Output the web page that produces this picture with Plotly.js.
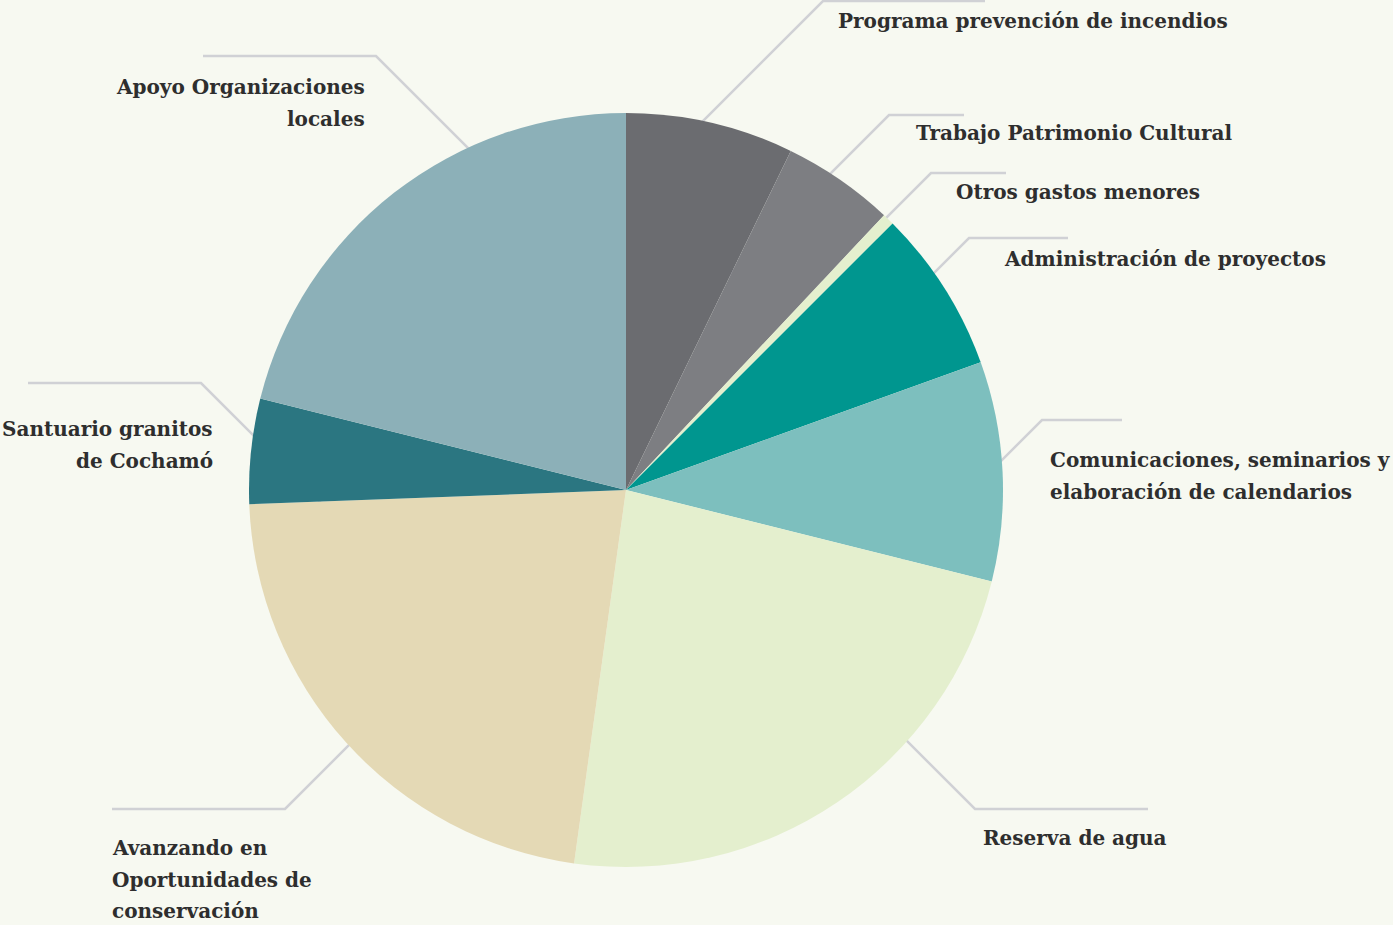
<!DOCTYPE html>
<html>
<head>
<meta charset="utf-8">
<script src="https://cdn.plot.ly/plotly-3.0.1.min.js"></script>
<style>
  html, body { margin: 0; padding: 0; background: #f7f9f1; }
  #graph { width: 1393px; height: 925px; }
</style>
</head>
<body>
<div id="graph"></div>
<script>
const categories = [
  "Programa prevención de incendios",
  "Trabajo Patrimonio Cultural",
  "Otros gastos menores",
  "Administración de proyectos",
  "Comunicaciones, seminarios y elaboración de calendarios",
  "Reserva de agua",
  "Avanzando en Oportunidades de conservación",
  "Santuario granitos de Cochamó",
  "Apoyo Organizaciones locales"
]
const values = [7.2, 4.8, 0.5, 7.0, 9.4, 23.3, 22.2, 4.5, 21.1]
const labelLines = [
  ["Programa prevención de incendios"],
  ["Trabajo Patrimonio Cultural"],
  ["Otros gastos menores"],
  ["Administración de proyectos"],
  ["Comunicaciones, seminarios y", "elaboración de calendarios"],
  ["Reserva de agua"],
  ["Avanzando en", "Oportunidades de", "conservación"],
  ["Santuario granitos", "de Cochamó"],
  ["Apoyo Organizaciones", "locales"]
]
const colors = ["#6b6c70", "#7d7e82", "#e4efce", "#00968f", "#7dbfbe",
                "#e4efce", "#e4d9b5", "#2b7681", "#8cb0b8"]

// layout of labels and leader lines, in pixels
const W = 1393, H = 925
const cx = 626, cy = 490, R = 377
const lineGap = 31.5
const labelPos = [
  { x: 836, y: 21, anchor: "left" },
  { x: 914, y: 133, anchor: "left" },
  { x: 954, y: 192, anchor: "left" },
  { x: 1002, y: 259, anchor: "left" },
  { x: 1048, y: 460, anchor: "left" },
  { x: 981, y: 838, anchor: "left" },
  { x: 110, y: 848, anchor: "left" },
  { x: 215, y: 429, anchor: "right" },
  { x: 367, y: 87, anchor: "right" }
]
const leaders = [
  { ex: 823, ey: 1, end: 985 },
  { ex: 889, ey: 115, end: 964 },
  { ex: 931, ey: 173, end: 1006 },
  { ex: 969, ey: 238, end: 1068 },
  { ex: 1042, ey: 420, end: 1122 },
  { ex: 975, ey: 809, end: 1148 },
  { ex: 285, ey: 809, end: 112 },
  { ex: 201, ey: 383, end: 28 },
  { ex: 376, ey: 56, end: 203 }
]

const px = (x) => x / W
const py = (y) => 1 - y / H

const data = [{
  type: "pie",
  labels: categories,
  values: values,
  sort: false,
  direction: "clockwise",
  rotation: 0,
  textinfo: "none",
  hoverinfo: "label+percent",
  marker: { colors: colors, line: { width: 0 } },
  domain: { x: [px(cx - R), px(cx + R)], y: [py(cy + R), py(cy - R)] },
  showlegend: false
}]

const shapes = leaders.map((l) => {
  const sx = Math.sign(cx - l.ex), sy = Math.sign(cy - l.ey)
  const dx = l.ex + sx * 220, dy = l.ey + sy * 220
  return {
    type: "path",
    xref: "paper", yref: "paper",
    layer: "below",
    path: `M ${px(l.end)} ${py(l.ey)} L ${px(l.ex)} ${py(l.ey)} L ${px(dx)} ${py(dy)}`,
    line: { color: "#d0d1d5", width: 2.5 }
  }
})

const annotations = []
labelLines.forEach((lines, i) => {
  const p = labelPos[i]
  lines.forEach((t, j) => {
    annotations.push({
      xref: "paper", yref: "paper",
      x: px(p.x), y: py(p.y + j * lineGap),
      xanchor: p.anchor, yanchor: "middle",
      align: p.anchor,
      showarrow: false,
      text: "<b>" + t + "</b>",
      font: { family: "DejaVu Serif", size: 20, color: "#2e2e2e" }
    })
  })
})

const layout = {
  width: W, height: H,
  margin: { l: 0, r: 0, t: 0, b: 0 },
  paper_bgcolor: "#f7f9f1",
  plot_bgcolor: "#f7f9f1",
  shapes: shapes,
  annotations: annotations
}

Plotly.newPlot("graph", data, layout, { displayModeBar: false })
</script>
</body>
</html>
